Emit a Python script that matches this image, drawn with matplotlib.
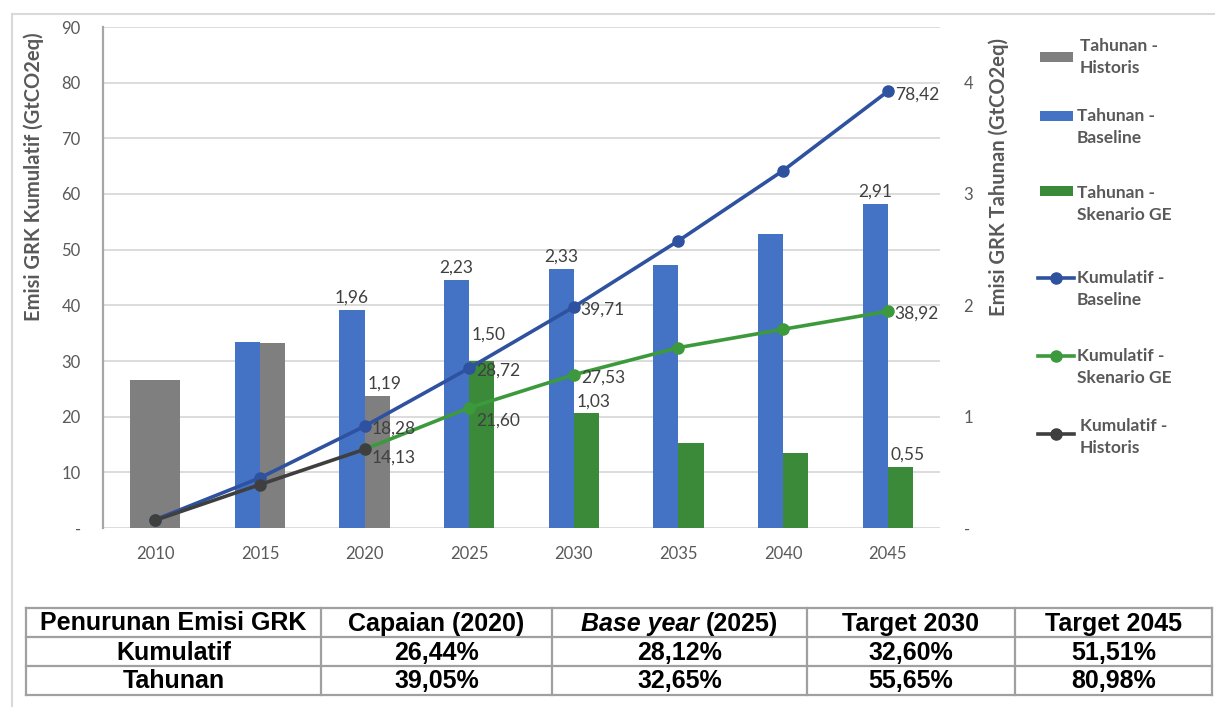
import numpy as np
import matplotlib.pyplot as plt
from matplotlib.lines import Line2D
from matplotlib.patches import Rectangle
from matplotlib.ticker import FixedLocator, FuncFormatter, MultipleLocator

W, H = 1215, 707

years = [2010, 2015, 2020, 2025, 2030, 2035, 2040, 2045]
nan = np.nan

# annual emissions, GtCO2eq (right axis)
annual_historis = [1.33, 1.66, 1.19, nan, nan, nan, nan, nan]
annual_baseline = [nan, 1.67, 1.96, 2.23, 2.33, 2.36, 2.64, 2.91]
annual_ge = [nan, nan, nan, 1.50, 1.03, 0.76, 0.67, 0.55]

# cumulative emissions, GtCO2eq (left axis)
cum_historis = [1.4, 7.8, 14.13, nan, nan, nan, nan, nan]
cum_baseline = [1.5, 9.0, 18.28, 28.72, 39.71, 51.6, 64.2, 78.42]
cum_ge = [nan, nan, 14.13, 21.60, 27.53, 32.4, 35.7, 38.92]

# years that get a value label, per series
labels_annual_historis = [2020]
labels_annual_baseline = [2020, 2025, 2030, 2045]
labels_annual_ge = [2025, 2030, 2045]
labels_cum_historis = [2020]
labels_cum_baseline = [2020, 2025, 2030, 2045]
labels_cum_ge = [2025, 2030, 2045]

table_header = ["Penurunan Emisi GRK", "Capaian (2020)", "(2025)", "Target 2030", "Target 2045"]
table_rows = ["Kumulatif", "Tahunan"]
reduction_cum = [26.44, 28.12, 32.60, 51.51]
reduction_annual = [39.05, 32.65, 55.65, 80.98]

GRAY = "#7F7F7F"
BLUE = "#4472C4"
GREEN = "#3A8A3A"
LINE_BLUE = "#2F52A0"
LINE_GREEN = "#3C9A3C"
LINE_DARK = "#3F3F3F"
TXT = "#595959"
LBL = "#404040"
GRID = "#D9D9D9"

FONT = "Lato"
TFONT = "Liberation Sans"


def fx(px):
    return px / W


def fy(py):
    return 1 - py / H


def fmt(v):
    return f"{v:.2f}".replace(".", ",")


fig = plt.figure(figsize=(W / 100, H / 100), dpi=100)
fig.patch.set_facecolor("white")

# cumulative axis (left) sits on top of the annual axis (right)
ax = fig.add_axes([fx(103), fy(528), (940 - 103) / W, (528 - 27) / H])
ax2 = ax.twinx()
ax.set_zorder(2)
ax2.set_zorder(1)
ax.patch.set_visible(False)
ax2.patch.set_facecolor("white")

x = np.arange(len(years))
w = 0.24

base = np.array(annual_baseline)
hist = np.array(annual_historis)
ge = np.array(annual_ge)
has_base = ~np.isnan(base)

ax2.bar(x[has_base] - w / 2, base[has_base], w, color=BLUE, zorder=3)
m = ~np.isnan(hist)
hist_x = np.where(has_base, x + w / 2, x)
hist_w = np.where(has_base, w, 2 * w)
ax2.bar(hist_x[m], hist[m], hist_w[m], color=GRAY, zorder=3)
m = ~np.isnan(ge)
ax2.bar(x[m] + w / 2, ge[m], w, color=GREEN, zorder=3)

# value labels above the bars
nudge = {("ge", 2025): 10}
for key, vals, ly, dx in [("base", base, labels_annual_baseline, -w / 2),
                          ("hist", hist, labels_annual_historis, w / 2 + 0.07),
                          ("ge", ge, labels_annual_ge, w / 2 + 0.07)]:
    for yr in ly:
        i = years.index(yr)
        ax2.annotate(fmt(vals[i]), (x[i] + dx, vals[i]), xytext=(0, 3 + nudge.get((key, yr), 0)),
                     textcoords="offset points", ha="center", va="bottom",
                     fontsize=12.5, color=LBL, family=FONT, zorder=5)

# cumulative lines
ax.plot(x, cum_ge, color=LINE_GREEN, lw=2.6, marker="o", ms=8, zorder=4)
ax.plot(x, cum_baseline, color=LINE_BLUE, lw=2.6, marker="o", ms=8, zorder=4)
ax.plot(x, cum_historis, color=LINE_DARK, lw=2.6, marker="o", ms=8, zorder=4)

shift = {("ge", 2025): -7, ("hist", 2020): -4}
for key, vals, ly in [("base", cum_baseline, labels_cum_baseline),
                      ("hist", cum_historis, labels_cum_historis),
                      ("ge", cum_ge, labels_cum_ge)]:
    for yr in ly:
        i = years.index(yr)
        ax.annotate(fmt(vals[i]), (x[i], vals[i]), xytext=(5, -2 + shift.get((key, yr), 0)),
                    textcoords="offset points", ha="left", va="center",
                    fontsize=12.5, color=LBL, family=FONT, zorder=6)

ax.set_xlim(-0.5, len(years) - 0.5)
ax.set_ylim(0, 90)
ax2.set_ylim(0, 4.5)

ax.set_xticks(x)
ax.set_xticklabels([str(y) for y in years])
ax.yaxis.set_major_locator(FixedLocator(np.arange(0, 91, 10)))
ax.yaxis.set_major_formatter(FuncFormatter(lambda v, p: "-" if v == 0 else f"{v:.0f}"))
ax2.yaxis.set_major_locator(FixedLocator(np.arange(0, 5, 1)))
ax2.yaxis.set_major_formatter(FuncFormatter(lambda v, p: "-" if v == 0 else f"{v:.0f}"))
ax2.yaxis.set_minor_locator(MultipleLocator(0.5))

ax2.grid(axis="y", which="both", color=GRID, lw=1.3, zorder=0)
ax2.set_axisbelow(True)

ax.tick_params(axis="x", length=0, pad=13, labelsize=12, labelcolor=TXT)
ax.tick_params(axis="y", length=0, pad=16, labelsize=12, labelcolor=TXT)
ax2.tick_params(axis="y", which="both", length=0, pad=17, labelsize=12, labelcolor=TXT)
for lab in ax.get_xticklabels() + ax.get_yticklabels() + ax2.get_yticklabels():
    lab.set_family(FONT)

for s in ax.spines.values():
    s.set_visible(False)
for s in ax2.spines.values():
    s.set_visible(False)
ax.spines["left"].set_visible(True)
ax.spines["left"].set_color("#A6A6A6")
ax.spines["left"].set_linewidth(1.6)

fig.text(fx(34), fy(177), "Emisi GRK Kumulatif (GtCO2eq)", rotation=90, ha="center", va="center",
         fontsize=14.5, color=TXT, family=FONT, fontweight="bold")
fig.text(fx(999), fy(177), "Emisi GRK Tahunan (GtCO2eq)", rotation=90, ha="center", va="center",
         fontsize=14.5, color=TXT, family=FONT, fontweight="bold")

# legend, one entry per series
legend_items = [
    ("bar", GRAY, "Tahunan -", "Historis", 57, 46),
    ("bar", BLUE, "Tahunan -", "Baseline", 116, 116),
    ("bar", GREEN, "Tahunan -", "Skenario GE", 191, 193),
    ("line", LINE_BLUE, "Kumulatif -", "Baseline", 278, 278),
    ("line", LINE_GREEN, "Kumulatif -", "Skenario GE", 356, 356),
    ("line", LINE_DARK, "Kumulatif -", "Historis", 434, 426),
]
for kind, col, l1, l2, hy, ty in legend_items:
    if kind == "bar":
        fig.add_artist(Rectangle((fx(1040), fy(hy + 5)), 33 / W, 10 / H, transform=fig.transFigure,
                                 color=col, lw=0))
    else:
        fig.add_artist(Line2D([fx(1038), fx(1074)], [fy(hy), fy(hy)], transform=fig.transFigure,
                              color=col, lw=2.6))
        fig.add_artist(Line2D([fx(1056)], [fy(hy)], transform=fig.transFigure, color=col,
                              marker="o", ms=8))
    tx = 1080 if l2 == "Historis" else 1077
    fig.text(fx(tx), fy(ty), l1, ha="left", va="center", fontsize=12.5, color=TXT,
             family=FONT, fontweight="bold")
    fig.text(fx(tx), fy(ty + 22), l2, ha="left", va="center", fontsize=12.5, color=TXT,
             family=FONT, fontweight="bold")

# outer frame
fig.add_artist(Line2D([fx(12), fx(12)], [fy(14), fy(707)], transform=fig.transFigure, color=GRID, lw=1.5))
fig.add_artist(Line2D([fx(12), fx(1215)], [fy(14), fy(14)], transform=fig.transFigure, color=GRID, lw=1.5))

# reduction table
col_edges = [26, 321, 552, 807, 1015, 1212]
row_edges = [608, 637, 666, 695]
for cx in col_edges:
    fig.add_artist(Line2D([fx(cx), fx(cx)], [fy(row_edges[0]), fy(row_edges[-1])],
                          transform=fig.transFigure, color="#A0A0A0", lw=1.6))
for ry in row_edges:
    fig.add_artist(Line2D([fx(col_edges[0]), fx(col_edges[-1])], [fy(ry), fy(ry)],
                          transform=fig.transFigure, color="#A0A0A0", lw=1.6))

cells = [table_header,
         [table_rows[0]] + [f"{v:.2f}%".replace(".", ",") for v in reduction_cum],
         [table_rows[1]] + [f"{v:.2f}%".replace(".", ",") for v in reduction_annual]]
renderer = fig.canvas.get_renderer()
TSIZE = 18
for r, row in enumerate(cells):
    cy = (row_edges[r] + row_edges[r + 1]) / 2 + 1
    for c, txt in enumerate(row):
        cx = (col_edges[c] + col_edges[c + 1]) / 2
        if r == 0 and c == 2:
            # italic "Base year" followed by the upright year
            t1 = fig.text(0, fy(cy), "Base year ", style="italic", ha="left", va="center",
                          fontsize=TSIZE, color="black", family=TFONT, fontweight="bold")
            t2 = fig.text(0, fy(cy), txt, ha="left", va="center",
                          fontsize=TSIZE, color="black", family=TFONT, fontweight="bold")
            w1 = t1.get_window_extent(renderer).width
            w2 = t2.get_window_extent(renderer).width
            x0 = cx - (w1 + w2) / 2
            t1.set_x(fx(x0))
            t2.set_x(fx(x0 + w1))
        else:
            fig.text(fx(cx), fy(cy), txt, ha="center", va="center", fontsize=TSIZE,
                     color="black", family=TFONT, fontweight="bold")

fig.savefig("out.png", dpi=100, facecolor="white")
